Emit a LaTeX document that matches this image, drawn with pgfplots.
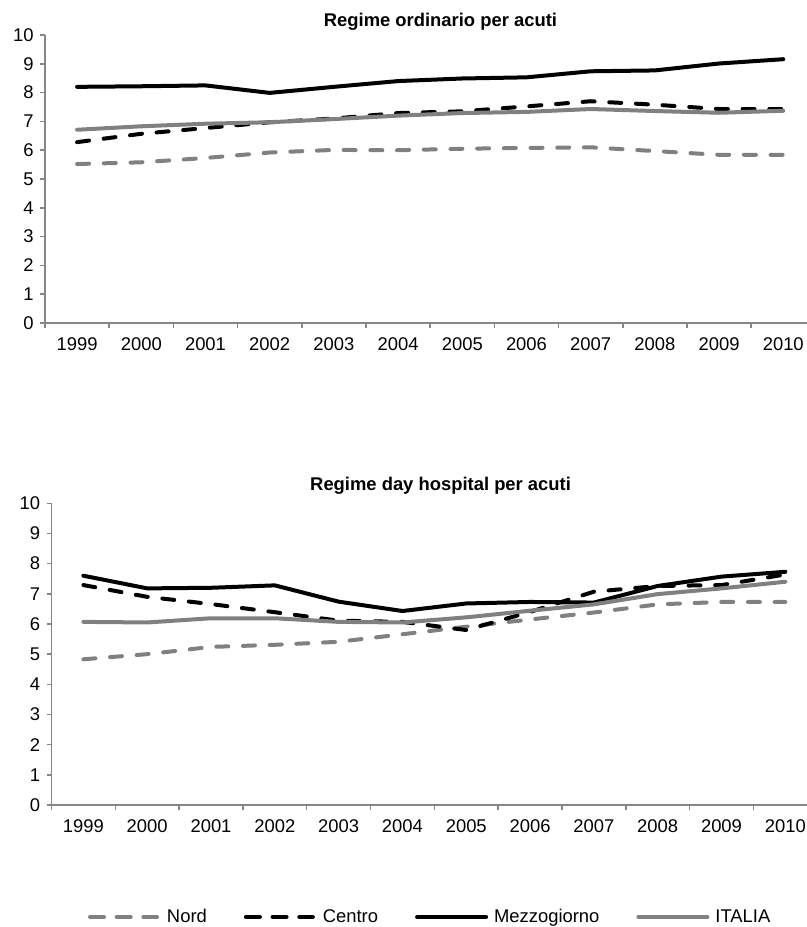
\documentclass[border=0pt]{standalone}
\usepackage{fontspec}
\setmainfont{Liberation Sans}
\usepackage{pgfplots}
\pgfplotsset{compat=1.18}
\definecolor{axgray}{HTML}{868686}
\definecolor{lngray}{HTML}{808080}
\pgfplotsset{
  base/.style={
    scale only axis, axis lines=left,
    axis line style={draw=axgray, line width=1.5bp, -},
    tick style={draw=axgray, line width=1.5bp}, tick align=outside, major tick length=5bp,
    ymin=0, ymax=10, ytick={0,...,10}, xmin=1998.5,
    xtick={1998.5,1999.5,2000.5,2001.5,2002.5,2003.5,2004.5,2005.5,2006.5,2007.5,2008.5,2009.5},
    xticklabels={},
    extra x ticks={1999,2000,2001,2002,2003,2004,2005,2006,2007,2008,2009,2010},
    extra x tick style={major tick length=0pt, xticklabel style={yshift=-11bp}},
    yticklabel style={xshift=-3bp},
    /pgf/number format/1000 sep={}, /pgf/number format/assume math mode=true,
    tick label style={font=\fontsize{18.4bp}{22bp}\selectfont},
    title style={font=\bfseries\fontsize{18.4bp}{22bp}\selectfont, anchor=base, inner sep=0pt},
  },
  nord/.style={lngray, line width=4bp, line cap=round, dash pattern=on 12bp off 14.7bp},
  centro/.style={black, line width=4bp, line cap=round, dash pattern=on 12bp off 14.7bp},
  mezz/.style={black, line width=4bp, line cap=round, line join=round},
  italia/.style={lngray, line width=4bp, line cap=round, line join=round},
}
\pgfplotstableread{
year nord centro mezz italia
1999 5.52 6.28 8.20 6.71
2000 5.58 6.57 8.22 6.83
2001 5.73 6.77 8.25 6.92
2002 5.92 6.97 7.99 6.97
2003 6.01 7.10 8.20 7.08
2004 6.00 7.29 8.40 7.20
2005 6.05 7.35 8.49 7.29
2006 6.08 7.52 8.53 7.33
2007 6.10 7.70 8.74 7.43
2008 5.97 7.58 8.77 7.36
2009 5.84 7.43 9.01 7.30
2010 5.84 7.43 9.16 7.37
}\ordinario
\pgfplotstableread{
year nord centro mezz italia
1999 4.83 7.29 7.60 6.07
2000 5.00 6.90 7.18 6.05
2001 5.24 6.66 7.20 6.19
2002 5.31 6.39 7.28 6.19
2003 5.41 6.11 6.74 6.07
2004 5.66 6.07 6.43 6.05
2005 5.91 5.80 6.68 6.22
2006 6.15 6.40 6.73 6.44
2007 6.38 7.07 6.71 6.65
2008 6.65 7.26 7.26 6.99
2009 6.73 7.29 7.57 7.18
2010 6.73 7.64 7.73 7.40
}\dayhospital
\begin{document}
\begin{tikzpicture}
\useasboundingbox (0bp,0bp) rectangle (807bp,-927bp);
\begin{axis}[base, at={(45bp,-323bp)}, anchor=south west,
  width=762bp, height=288bp, xmax=2010.37,
  title={Regime ordinario per acuti},
  title style={at={(axis description cs:0.519,1.0104)}}]
\addplot[nord] table[x=year,y=nord] {\ordinario};
\addplot[centro] table[x=year,y=centro] {\ordinario};
\addplot[mezz] table[x=year,y=mezz] {\ordinario};
\addplot[italia] table[x=year,y=italia] {\ordinario};
\end{axis}
\begin{axis}[base, at={(51.5bp,-805bp)}, anchor=south west,
  width=755.5bp, height=301.7bp, xmax=2010.34,
  title={Regime day hospital per acuti},
  title style={at={(axis description cs:0.515,1.021)}},
  legend columns=4,
  legend image code/.code={\draw[#1] (2bp,0bp) -- (67bp,0bp); \path (0bp,0bp) -- (69bp,0bp);},
  legend style={at={(axis description cs:0.0483,-0.371)}, anchor=west,
    draw=none, fill=none, inner sep=0pt, outer sep=0pt,
    font=\fontsize{18.4bp}{22bp}\selectfont,
    nodes={inner sep=0pt},
    /tikz/every odd column/.append style={column sep=6bp},
    /tikz/every even column/.append style={column sep=37bp}}]
\addplot[nord] table[x=year,y=nord] {\dayhospital};
\addplot[centro] table[x=year,y=centro] {\dayhospital};
\addplot[mezz] table[x=year,y=mezz] {\dayhospital};
\addplot[italia] table[x=year,y=italia] {\dayhospital};
\legend{Nord,Centro,Mezzogiorno,ITALIA}
\end{axis}
\end{tikzpicture}
\end{document}
